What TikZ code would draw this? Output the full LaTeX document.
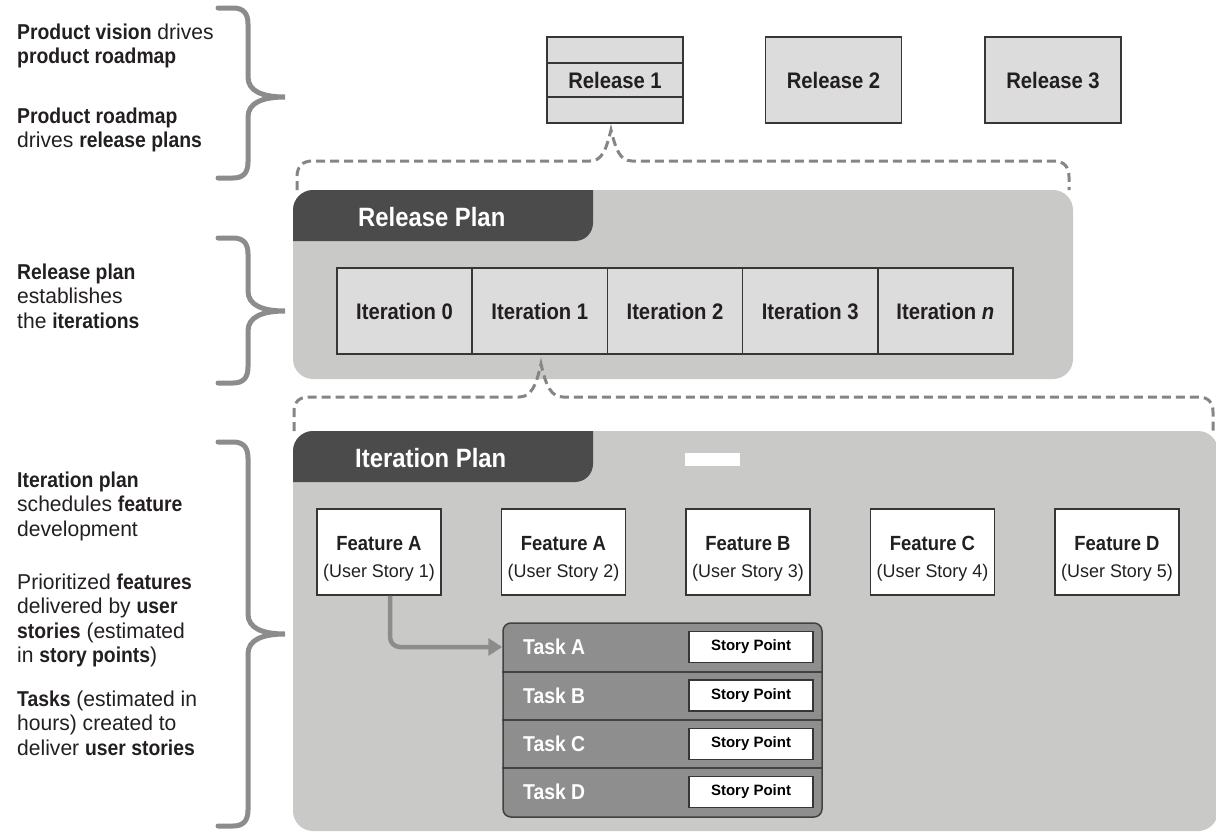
\documentclass[tikz,border=0pt]{standalone}
\usepackage{fontspec}
\setmainfont{Liberation Sans}[FakeStretch=0.98, BoldFeatures={FakeStretch=0.9}, BoldItalicFeatures={FakeStretch=0.9}]
\newfontfamily\arialfont{Liberation Sans}
\usetikzlibrary{arrows.meta}
\definecolor{panel}{HTML}{C9CAC7}
\definecolor{tabc}{HTML}{4B4B4B}
\definecolor{boxc}{HTML}{DCDCDC}
\definecolor{taskc}{HTML}{8E8E8E}
\definecolor{bracec}{HTML}{8C8C8C}
\definecolor{dashc}{HTML}{858585}
\definecolor{ink}{HTML}{231F20}
\newcommand\mybrace[3]{%
  \draw[bracestyle] (218,#1) -- (233,#1) .. controls (243,#1) and (248,#1+5) .. (248,#1+16)
    -- (248,#2-20) .. controls (248,#2-6) and (262,#2) .. (285,#2)
    .. controls (262,#2) and (248,#2+6) .. (248,#2+20)
    -- (248,#3-16) .. controls (248,#3-5) and (243,#3) .. (233,#3) -- (218,#3);}
\begin{document}
\begin{tikzpicture}[x=1pt,y=-1pt,
  bracestyle/.style={draw=bracec, line width=5pt, line cap=round},
  dashline/.style={draw=dashc, line width=3pt, dash pattern=on 9pt off 5pt},
  relbox/.style={draw=ink!90, line width=1.5pt, fill=boxc, minimum width=136, minimum height=86,
     inner sep=0pt, font=\fontsize{22.5}{24}\selectfont\bfseries, text=ink},
  iterbox/.style={draw=ink!90, line width=1.5pt, fill=boxc, minimum width=135.2, minimum height=86,
     inner sep=0pt, font=\fontsize{22.5}{24}\selectfont\bfseries, text=ink},
  featbox/.style={draw=ink!90, line width=1.5pt, fill=white, minimum width=124, minimum height=86,
     inner sep=0pt, align=center, font=\fontsize{20.5}{27}\selectfont, text=ink},
  tasklabel/.style={anchor=west, inner sep=0pt, text=white, font=\fontsize{21.5}{24}\selectfont\bfseries},
  spbox/.style={draw=ink!90, line width=1.5pt, fill=white, minimum width=124, minimum height=31,
     inner sep=0pt, font=\arialfont\fontsize{15}{17}\selectfont\bfseries, text=black},
  tabtext/.style={anchor=west, inner sep=0pt, text=white, font=\fontsize{26.5}{28}\selectfont\bfseries},
  sidetext/.style={anchor=north west, inner sep=0pt, align=left, text=ink, font=\fontsize{21.5}{24.2}\selectfont},
  arrowc/.style={draw=bracec, line width=4.5pt, rounded corners=10pt,
     -{Triangle[length=14pt,width=17pt]}}
]
\useasboundingbox (0,0) rectangle (1216,833);

% ---------- left braces and texts ----------
\mybrace{8}{97}{178}
\mybrace{238}{311}{383}
\mybrace{442}{634}{826}

\node[sidetext] (t1) at (17,24) {\textbf{Product vision} drives\\\textbf{product roadmap}};
\node[sidetext] (t2) at (17,108) {\textbf{Product roadmap}\\drives \textbf{release plans}};
\node[sidetext] (t3) at (17,264) {\textbf{Release plan}\\establishes\\the \textbf{iterations}};
\node[sidetext] (t4) at (17,472) {\textbf{Iteration plan}\\schedules \textbf{feature}\\development};
\node[sidetext] (t5) at (17,574) {Prioritized \textbf{features}\\delivered by \textbf{user}\\\textbf{stories} (estimated\\in \textbf{story points})};
\node[sidetext] (t6) at (17,691) {\textbf{Tasks} (estimated in\\hours) created to\\deliver \textbf{user stories}};

% ---------- releases ----------
\node[relbox] (rel1) at (615,80) {Release 1};
\node[relbox] (rel2) at (833.5,80) {Release 2};
\node[relbox] (rel3) at (1053,80) {Release 3};
\draw[ink!90, line width=1.5pt] (rel1.west |- 0,63) -- (rel1.east |- 0,63);
\draw[ink!90, line width=1.5pt] (rel1.west |- 0,97) -- (rel1.east |- 0,97);

% ---------- release plan panel ----------
\fill[panel, rounded corners=20pt] (293,190) rectangle (1073,379);
\fill[tabc] (293,241) -- (293,210) .. controls (293,199) and (302,190) .. (313,190)
  -- (593,190) -- (593,223) .. controls (593,233) and (585,241) .. (575,241) -- cycle;
\node[tabtext] (rp) at (358,217) {Release Plan};

\coordinate (d1l) at (297,190);
\coordinate (d1r) at (1069,190);
\draw[dashline] (d1l) -- (297,177) .. controls (297,167) and (302,161) .. (312,161)
  -- (590,161) .. controls (602,161) and (606,150) .. (611,130)
  .. controls (616,150) and (620,161) .. (632,161)
  -- (1054,161) .. controls (1064,161) and (1069,167) .. (1069,177) -- (d1r);

\foreach \i/\lab in {0/Iteration 0,1/Iteration 1,2/Iteration 2,3/Iteration 3,4/Iteration \textit{n}}{
  \node[iterbox] (it\i) at (404.6+135.2*\i,311) {\lab};
}

% ---------- iteration plan panel ----------
\fill[panel, rounded corners=20pt] (293,431) rectangle (1218,831);
\fill[tabc] (293,482) -- (293,451) .. controls (293,440) and (302,431) .. (313,431)
  -- (593,431) -- (593,464) .. controls (593,474) and (585,482) .. (575,482) -- cycle;
\node[tabtext] (ip) at (355,458) {Iteration Plan};
\fill[white] (685,453) rectangle (740,466);

\coordinate (d2l) at (294,431);
\coordinate (d2r) at (1213,431);
\draw[dashline] (d2l) -- (294,412) .. controls (294,402) and (299,397) .. (309,397)
  -- (519,397) .. controls (531,397) and (536,386) .. (541,364)
  .. controls (546,386) and (551,397) .. (563,397)
  -- (1198,397) .. controls (1208,397) and (1213,402) .. (1213,412) -- (d2r);

% ---------- features ----------
\newcommand\feat[2]{\rule{0pt}{27pt}\textbf{#1}\\{\fontsize{18.3}{22}\selectfont (#2)}}
\node[featbox] (fa1) at (379,552) {\feat{Feature A}{User Story 1}};
\node[featbox] (fa2) at (563.5,552) {\feat{Feature A}{User Story 2}};
\node[featbox] (fb) at (748,552) {\feat{Feature B}{User Story 3}};
\node[featbox] (fc) at (932.5,552) {\feat{Feature C}{User Story 4}};
\node[featbox] (fd) at (1117,552) {\feat{Feature D}{User Story 5}};

% ---------- tasks ----------
\node[draw=ink!85, line width=1.5pt, fill=taskc, rounded corners=8pt, minimum width=319, minimum height=194, inner sep=0pt]
  (tasks) at (662.5,720) {};
\foreach \y in {672,720,768}{
  \draw[ink!85, line width=1.5pt] (tasks.west |- 0,\y) -- (tasks.east |- 0,\y);
}
\foreach \n/\y in {A/647,B/695.5,C/744,D/792}{
  \node[tasklabel] (t\n) at (523,\y) {Task \n};
  \node[spbox] (sp\n) at (751,\y) {Story Point};
}
\coordinate (taskin) at (tasks.west |- tA);
\draw[arrowc] ([xshift=11pt]fa1.south) |- (taskin);
\end{tikzpicture}
\end{document}
